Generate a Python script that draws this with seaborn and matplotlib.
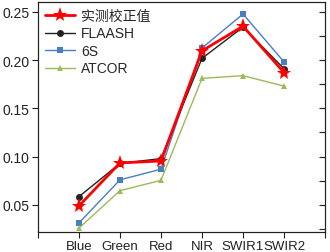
import numpy as np
import pandas as pd
import seaborn as sns
import matplotlib.pyplot as plt
from matplotlib.ticker import MultipleLocator, FixedLocator

## band names along x
bands = ["Blue", "Green", "Red", "NIR", "SWIR1", "SWIR2"]

## reflectance
measured = [0.049, 0.0935, 0.0955, 0.2095, 0.235, 0.187]
flaash = [0.0586, 0.093, 0.098, 0.2017, 0.234, 0.191]
s6 = [0.0314, 0.076, 0.087, 0.2124, 0.2476, 0.198]
atcor = [0.026, 0.0648, 0.0755, 0.181, 0.1838, 0.173]

names = ["实测校正值", "FLAASH", "6S", "ATCOR"]

sns.set_style("ticks")
plt.rcParams['font.family'] = ['Liberation Sans', 'Noto Sans CJK SC', 'DejaVu Sans']

fig, ax = plt.subplots(figsize=(3.3, 2.53), dpi=100)
fig.subplots_adjust(left=0.115, right=0.985, top=0.988, bottom=0.079)

pos = np.arange(1, len(bands) + 1)
df = pd.DataFrame({"pos": pos, names[0]: measured, names[1]: flaash,
                   names[2]: s6, names[3]: atcor})

## draw order: 6S, ATCOR, FLAASH, then red star on top
styles = {
    "6S": dict(color="#4a7ec4", marker="s", ms=4.5, lw=1.0, z=2),
    "ATCOR": dict(color="#9bbb59", marker="^", ms=5, lw=1.0, z=2),
    "FLAASH": dict(color="#222222", marker="o", ms=5, lw=1.0, z=3),
    "实测校正值": dict(color="#ff0000", marker="*", ms=11, lw=2.0, z=4),
}
for nm in names:
    st = styles[nm]
    sns.lineplot(data=df, x="pos", y=nm, ax=ax, color=st["color"], marker=st["marker"],
                 markersize=st["ms"], linewidth=st["lw"], markeredgewidth=0,
                 zorder=st["z"], label=nm)

ax.set_xlim(0, 7)
ax.set_ylim(0.022, 0.26)
ax.xaxis.set_major_locator(FixedLocator(range(0, 8)))
ax.set_xticklabels([""] + bands + [""])
ax.yaxis.set_major_locator(MultipleLocator(0.05))
ax.yaxis.set_major_formatter(plt.FormatStrFormatter("%.2f"))
ax.set_xlabel("")
ax.set_ylabel("")
ax.tick_params(labelsize=10, length=4, width=0.8, colors="#222222", pad=2)
ax.tick_params(axis="x", labelsize=9.5)

## inward ticks on the right side every 0.025
ax2 = ax.twinx()
ax2.set_ylim(ax.get_ylim())
ax2.yaxis.set_major_locator(MultipleLocator(0.025))
ax2.tick_params(direction="in", length=4, width=0.8, labelright=False, colors="#222222")

for a in (ax, ax2):
    for s in a.spines.values():
        s.set_visible(True)
        s.set_color("#222222")
        s.set_linewidth(0.8)

leg = ax.legend(loc="upper left", frameon=False, fontsize=10, handlelength=2.2,
                borderaxespad=0.1, labelspacing=0.25, handletextpad=0.4,
                bbox_to_anchor=(0.0, 1.0))

fig.savefig("out.png", dpi=100)
